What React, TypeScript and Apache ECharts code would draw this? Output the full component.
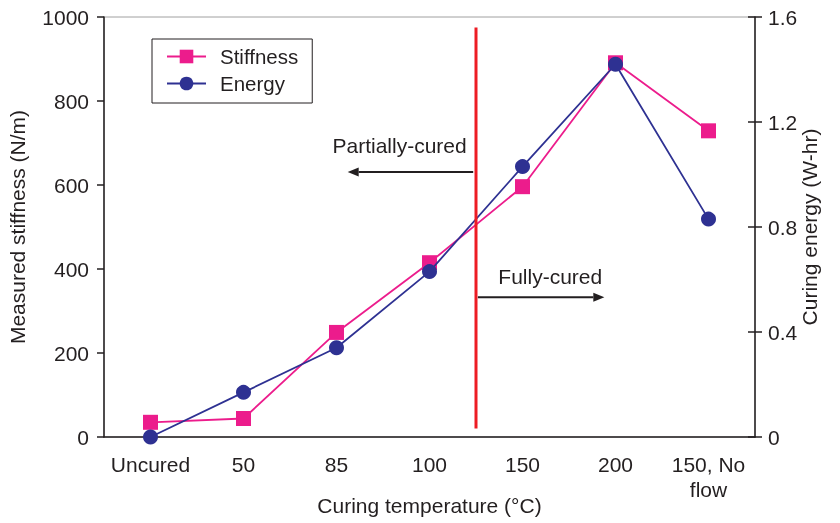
import React, { useEffect, useRef } from "react";
import * as echarts from "echarts";

const categories = ["Uncured", "50", "85", "100", "150", "200", "150, No\nflow"];
const stiffness = [35, 44, 249, 415, 596, 891, 729];
const energy = [0, 0.17, 0.34, 0.63, 1.03, 1.42, 0.83];

// annotation anchors (category index fraction, stiffness value)
const boundaryIndex = 3.5;
const redLineRange = [975, 20];
const partialArrow = { y: 631, from: 3.47, to: 2.12, textRight: 3.4, textY: 693 };
const fullArrow = { y: 333, from: 3.52, to: 4.88, textLeft: 3.74, textY: 381 };

const FONT = "Liberation Sans";
const TXT = "#231f20";
const PINK = "#ec1c8c";
const BLUE = "#2e3192";

export default function App() {
  const ref = useRef<HTMLDivElement>(null);
  useEffect(() => {
    if (!ref.current) return;
    const chart = echarts.init(ref.current, null, { renderer: "svg" });
    const labelStyle = { fontFamily: FONT, fontSize: 21, color: TXT };
    chart.setOption({
      animation: false,
      grid: {
        left: 104,
        right: 85,
        top: 17,
        bottom: 86,
        show: true,
        borderColor: "#a0a0a0",
        borderWidth: 1,
        containLabel: false,
        outerBoundsMode: "none",
      },
      legend: {
        orient: "vertical",
        left: 152,
        top: 39,
        padding: [7, 14, 9, 14],
        itemGap: 6,
        itemWidth: 39,
        itemHeight: 17,
        borderColor: TXT,
        borderWidth: 1,
        borderRadius: 0,
        textStyle: { fontFamily: FONT, fontSize: 20.5, color: TXT, padding: [0, 0, 0, 9] },
        data: ["Stiffness", "Energy"],
      },
      xAxis: {
        type: "category",
        data: categories,
        boundaryGap: true,
        name: "Curing temperature (°C)",
        nameLocation: "middle",
        nameGap: 58,
        nameMoveOverlap: false,
        nameTextStyle: labelStyle,
        axisLine: { lineStyle: { color: TXT, width: 1.5 } },
        axisTick: { length: 6, lineStyle: { color: TXT, width: 1.5 } },
        axisLabel: { ...labelStyle, margin: 15, lineHeight: 25, interval: 0 },
        splitLine: { show: false },
      },
      yAxis: [
        {
          type: "value",
          position: "left",
          min: 0,
          max: 1000,
          interval: 200,
          name: "Measured stiffness (N/m)",
          nameLocation: "middle",
          nameGap: 76,
          nameMoveOverlap: false,
          nameTextStyle: labelStyle,
          axisLine: { show: true, lineStyle: { color: TXT, width: 1.5 } },
          axisTick: { show: true, length: 7, lineStyle: { color: TXT, width: 1.5 } },
          axisLabel: { ...labelStyle, margin: 15, formatter: (v: number) => String(v) },
          splitLine: { show: false },
        },
        {
          type: "value",
          position: "right",
          min: 0,
          max: 1.6,
          interval: 0.4,
          name: "Curing energy (W-hr)",
          nameLocation: "middle",
          nameGap: 44,
          nameRotate: 90,
          nameMoveOverlap: false,
          nameTextStyle: labelStyle,
          axisLine: { show: true, lineStyle: { color: TXT, width: 1.5 } },
          axisTick: { show: true, length: 7, lineStyle: { color: TXT, width: 1.5 } },
          axisLabel: { ...labelStyle, margin: 13 },
          splitLine: { show: false },
        },
        {
          type: "value",
          position: "right",
          min: 0,
          max: 1.6,
          interval: 0.4,
          axisLine: { show: false },
          axisTick: { show: true, inside: true, length: 7, lineStyle: { color: TXT, width: 1.5 } },
          axisLabel: { show: false },
          splitLine: { show: false },
        },
      ],
      series: [
        {
          name: "Stiffness",
          type: "line",
          yAxisIndex: 0,
          data: stiffness,
          symbol: "rect",
          symbolSize: 15,
          itemStyle: { color: PINK },
          lineStyle: { color: PINK, width: 1.8 },
          z: 3,
        },
        {
          name: "Energy",
          type: "line",
          yAxisIndex: 1,
          data: energy,
          symbol: "circle",
          symbolSize: 15,
          itemStyle: { color: BLUE },
          lineStyle: { color: BLUE, width: 1.8 },
          z: 4,
        },
      ],
    });

    const px0 = chart.convertToPixel({ xAxisIndex: 0 }, categories[0]) as number;
    const px1 = chart.convertToPixel({ xAxisIndex: 0 }, categories[1]) as number;
    const xPix = (f: number) => px0 + f * (px1 - px0);
    const yPix = (v: number) => chart.convertToPixel({ yAxisIndex: 0 }, v) as number;

    const arrow = (x1: number, x2: number, y: number) => {
      const dir = Math.sign(x2 - x1);
      const head = 11;
      return [
        {
          type: "line",
          shape: { x1, y1: y, x2: x2 - dir * head, y2: y },
          style: { stroke: TXT, lineWidth: 2 },
          z: 10,
        },
        {
          type: "polygon",
          shape: {
            points: [
              [x2, y],
              [x2 - dir * head, y - 4.5],
              [x2 - dir * head, y + 4.5],
            ],
          },
          style: { fill: TXT },
          z: 10,
        },
      ];
    };

    const bx = xPix(boundaryIndex);
    chart.setOption({
      graphic: [
        {
          type: "line",
          shape: { x1: bx, y1: yPix(redLineRange[0]), x2: bx, y2: yPix(redLineRange[1]) },
          style: { stroke: "#ed1c24", lineWidth: 3 },
          z: 9,
        },
        ...arrow(xPix(partialArrow.from), xPix(partialArrow.to), yPix(partialArrow.y)),
        ...arrow(xPix(fullArrow.from), xPix(fullArrow.to), yPix(fullArrow.y)),
        {
          type: "text",
          x: xPix(partialArrow.textRight),
          y: yPix(partialArrow.textY),
          style: {
            text: "Partially-cured",
            fontFamily: FONT,
            fontSize: 21,
            fill: TXT,
            align: "right",
            verticalAlign: "middle",
          },
          z: 10,
        },
        {
          type: "text",
          x: xPix(fullArrow.textLeft),
          y: yPix(fullArrow.textY),
          style: {
            text: "Fully-cured",
            fontFamily: FONT,
            fontSize: 21,
            fill: TXT,
            align: "left",
            verticalAlign: "middle",
          },
          z: 10,
        },
      ],
    });

    return () => chart.dispose();
  }, []);
  return (
    <div
      ref={ref}
      style={{ position: "fixed", left: 0, top: 0, width: 840, height: 523 }}
    />
  );
}
